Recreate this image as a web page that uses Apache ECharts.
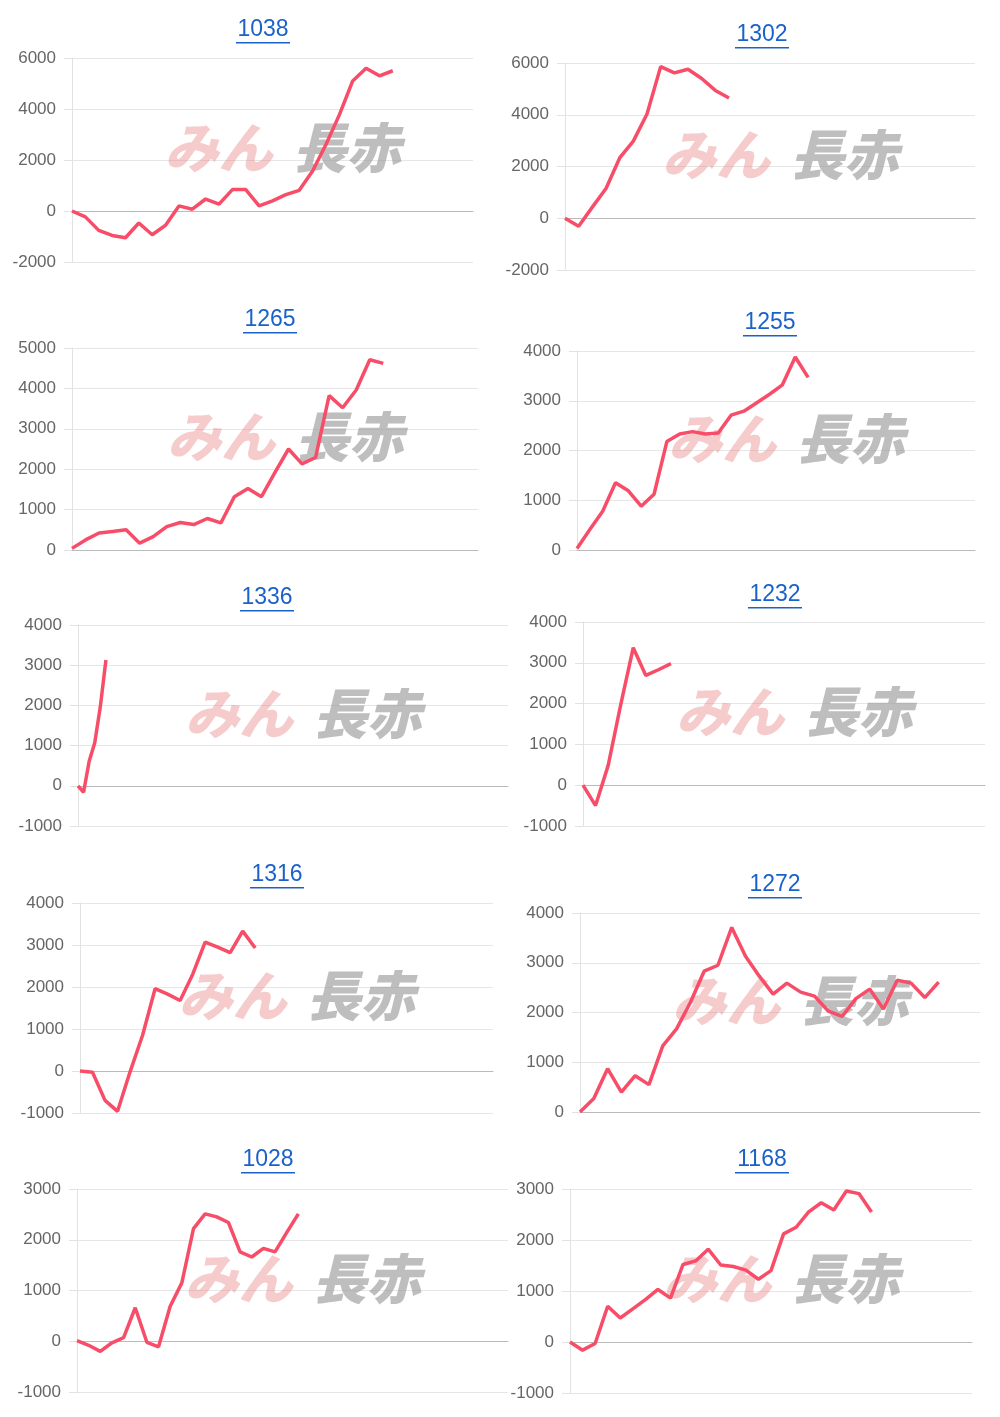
<!DOCTYPE html>
<html>
<head>
<meta charset="utf-8">
<script src="https://cdn.jsdelivr.net/npm/echarts@6/dist/echarts.min.js"></script>
<style>
  html, body { margin: 0; padding: 0; background: #fff; }
  #main { width: 1000px; height: 1417px; }
</style>
</head>
<body>
<div id="main"></div>
<script>
// machine numbers (chart titles)
const titles = ['1038', '1302', '1265', '1255', '1336', '1232', '1316', '1272', '1028', '1168'];

// per-machine point values (difference in balls)
const d1038 = [0, -230, -760, -960, -1050, -470, -930, -560, 200, 70, 470, 270, 840, 840, 200, 400, 640, 810, 1570, 2610, 3770, 5100, 5600, 5300, 5500];
const d1302 = [0, -310, 430, 1150, 2330, 2980, 4030, 5860, 5620, 5760, 5400, 4940, 4650];
const d1265 = [40, 250, 420, 460, 500, 170, 330, 580, 680, 630, 780, 670, 1320, 1520, 1320, 1920, 2500, 2130, 2290, 3820, 3520, 3960, 4710, 4620];
const d1255 = [30, 410, 780, 1350, 1190, 880, 1120, 2180, 2330, 2380, 2330, 2350, 2710, 2790, 2960, 3130, 3320, 3880, 3470];
const d1336 = [0, -160, 610, 1070, 1970, 3130];
const d1232 = [0, -500, 480, 1970, 3370, 2690, 2830, 2980];
const d1316 = [0, -30, -700, -960, -20, 850, 1960, 1830, 1680, 2300, 3070, 2950, 2820, 3330, 2930];
const d1272 = [0, 270, 870, 400, 730, 550, 1330, 1670, 2200, 2830, 2950, 3710, 3130, 2730, 2370, 2590, 2410, 2330, 2030, 1920, 2280, 2470, 2070, 2650, 2590, 2300, 2610];
const d1028 = [10, -80, -200, -30, 70, 660, -20, -110, 690, 1150, 2220, 2510, 2450, 2340, 1760, 1660, 1830, 1760, 2140, 2510];
const d1168 = [0, -160, -30, 700, 470, 650, 830, 1030, 860, 1520, 1590, 1820, 1510, 1480, 1410, 1230, 1400, 2120, 2250, 2550, 2730, 2590, 2960, 2910, 2550];

const seriesData = [d1038, d1302, d1265, d1255, d1336, d1232, d1316, d1272, d1028, d1168];
// number of x slots on each axis
const slotCounts = [31, 31, 31, 32, 78, 33, 34, 30, 38, 33];
// y axis ranges
const yMins = [-2000, -2000, 0, 0, -1000, -1000, -1000, 0, -1000, -1000];
const yMaxs = [6000, 6000, 5000, 4000, 4000, 4000, 4000, 4000, 3000, 3000];
const yStep = [2000, 2000, 1000, 1000, 1000, 1000, 1000, 1000, 1000, 1000];

// layout: [left, top, width, height, titleX, titleY] in px
const boxes = [
  [72, 58, 401, 204, 263, 30], [565, 63, 410, 207, 762, 35],
  [72, 348, 406, 202, 270, 320], [577, 351, 398, 199, 770, 323],
  [78, 625, 430, 201, 267, 598], [583, 622, 402, 204, 775, 595],
  [80, 903, 413, 210, 277, 875], [580, 913, 400, 199, 775, 885],
  [77, 1189, 431, 203, 268, 1160], [570, 1189, 402, 204, 762, 1160]
];

const chart = echarts.init(document.getElementById('main'));
const opt = { animation: false, grid: [], xAxis: [], yAxis: [], series: [], graphic: [] };

boxes.forEach(function (b, i) {
  const tx = b[4];
  opt.graphic.push({
    type: 'text', x: tx, y: b[5], z: 10,
    style: { text: titles[i], fill: '#1a62c9', font: '23px "Liberation Sans"', align: 'center', verticalAlign: 'middle' }
  });
  opt.graphic.push({
    type: 'rect', shape: { x: tx - 27, y: b[5] + 12, width: 54, height: 1.5 },
    style: { fill: '#1a62c9' }
  });
  // watermark
  const cx = b[0] + b[2] / 2 - 8;
  const wy = b[1] + b[3] * 0.44;
  opt.graphic.push({
    type: 'text', x: cx - 100, y: wy, z: 1,
    style: { text: 'みん', fill: 'rgba(232,130,130,0.42)', font: 'italic 900 54px "Noto Sans CJK JP"', verticalAlign: 'middle' }
  });
  opt.graphic.push({
    type: 'text', x: cx + 28, y: wy, z: 1,
    style: { text: '長赤', fill: 'rgba(150,150,150,0.62)', font: 'italic 900 54px "Noto Sans CJK JP"', verticalAlign: 'middle' }
  });

  opt.grid.push({ left: b[0], top: b[1], width: b[2], height: b[3] });
  const cats = [];
  for (let k = 0; k < slotCounts[i]; k++) cats.push(k + 1);
  opt.xAxis.push({
    type: 'category', gridIndex: i, data: cats, boundaryGap: false,
    axisLine: { onZero: true, lineStyle: { color: '#bbb' } },
    axisTick: { show: false }, axisLabel: { show: false }, splitLine: { show: false }
  });
  opt.yAxis.push({
    type: 'value', gridIndex: i, min: yMins[i], max: yMaxs[i], interval: yStep[i],
    axisLine: { show: true, lineStyle: { color: '#e2e2e2' } },
    axisTick: { show: true, length: 8, lineStyle: { color: '#e2e2e2' } },
    axisLabel: { color: '#666', fontSize: 17, margin: 16, fontFamily: 'Liberation Sans',
      formatter: function (v) { return String(v); } },
    splitLine: { lineStyle: { color: '#e6e6e6' } }
  });
  opt.series.push({
    type: 'line', xAxisIndex: i, yAxisIndex: i, data: seriesData[i], z: 5,
    showSymbol: false, lineStyle: { color: '#f74d68', width: 3.5 }
  });
});

chart.setOption(opt);
</script>
</body>
</html>
